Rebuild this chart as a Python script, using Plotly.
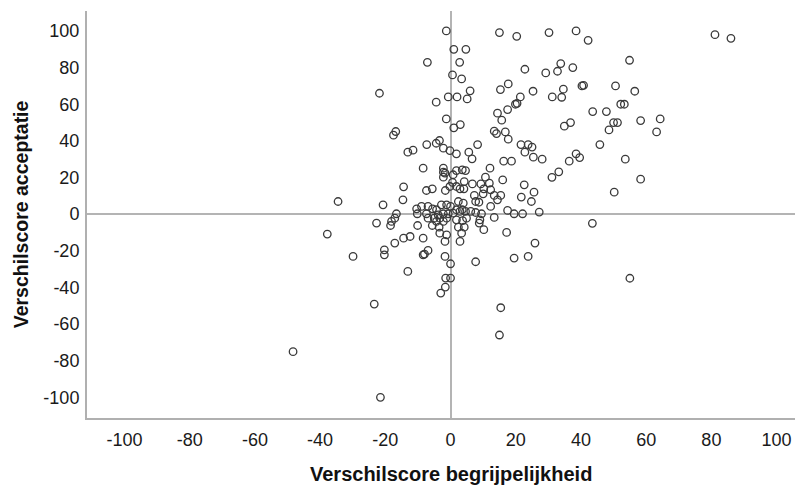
import plotly.graph_objects as go

# Verschilscore begrijpelijkheid (x) and Verschilscore acceptatie (y)
begrijpelijkheid = [
    30.2, 38.5, 42.2, 81.1, 86.0, 54.9, 33.8, 32.8, 29.2, 37.5, 40.3, 40.8, 50.6, 56.5, 25.3,
    34.6, 31.2, 34.1, 52.2, 53.3, 43.6, 47.8, 34.9, 36.8, 50.0, 51.2, 48.6, 58.3, 64.3, 63.2,
    45.8, 25.0,
    -1.3, 1.0, 4.7, -7.1, 2.8, 0.6, 3.4, -21.8, 6.0, -0.7, 2.0, 5.1, -4.4, -1.3, 1.0, 3.0,
    -16.8, -17.5, -7.3, -4.4, -3.4, 8.3, 15.0, 20.3, 22.8, 15.3, 17.7, 21.4, 19.9, 20.4, 17.5,
    14.4, 15.7, 13.4, 14.1, 16.8, 17.7, 21.6, 23.8,
    -13.1, -11.5, -2.2, -0.2, 1.8, 5.6, 6.6, 22.8, 25.4, 16.3, 18.7, -8.4, -2.2, 12.1, -2.2,
    -1.7, 0.8, 1.8, 3.6, 4.6, -2.2, 10.7, 4.2, 6.7, 9.3, 11.9, 16.0, 0.6, -14.4, -7.4, -5.6,
    -1.6, 2.9, 4.1, -0.2, 1.8, 10.2, 12.3, 22.6, 25.6, 7.3, 10.0, 13.4, 15.4, 14.4, 7.7, 8.7,
    21.7, 24.8, -14.6, -34.5, -20.7, -1.2, 2.4, 3.9, 12.3, -10.4, -8.9, -6.9, -5.5, -4.3, -2.8,
    0.0, 1.8, 3.6, 4.6, 6.2, 7.7, 9.5, 17.5, 19.5, 22.1, 27.2, -16.6, -10.2, -7.4, -3.8, -2.2,
    -0.7, 0.8, 2.9, -17.1, -18.1, -22.7, -6.9, -5.0, -3.3, -1.2, 1.8, 3.7, 4.9, 9.0, 13.4,
    -4.3, -2.2, -18.4, -10.1, -5.6, -3.5, 2.4, 4.2, 8.8, 10.2, 17.2, -37.8, -3.3, -1.2, 3.4,
    -14.4, -12.4, -8.4, -17.1, -1.7, 2.9, 25.9, -20.3, -20.3, -6.9, -8.4, -8.0, -29.9, -1.7,
    19.5, 23.8, 0.0, 7.7,
    28.1, 38.5, 39.6, 36.4, 53.6, 33.2, 31.1, 58.3, 50.2, 43.5, 55.0,
    -13.1, -1.5, 0.0, -1.6, -3.0, -23.4, 15.4, 15.0, -48.3, -21.5,
]
acceptatie = [
    99.1, 100.0, 94.9, 98.0, 96.0, 84.0, 82.2, 78.0, 77.1, 80.0, 70.0, 70.3, 70.0, 67.1, 67.1,
    68.2, 64.0, 63.8, 60.0, 60.0, 56.0, 56.0, 48.0, 50.0, 50.0, 50.0, 46.0, 51.1, 52.0, 44.9,
    38.0, 36.6,
    100.0, 90.0, 90.0, 82.9, 82.9, 76.0, 73.8, 66.0, 67.3, 64.0, 64.0, 62.9, 61.1, 52.0, 47.1, 48.9,
    45.1, 43.1, 38.0, 38.7, 40.2, 38.0, 99.1, 97.1, 79.1, 68.0, 71.1, 64.0, 60.0, 60.5, 57.1,
    55.1, 51.3, 45.3, 44.0, 44.9, 40.9, 38.0, 38.0,
    33.8, 34.9, 36.0, 34.7, 32.9, 33.8, 30.2, 33.8, 31.1, 28.9, 28.9, 25.1, 25.1, 25.1, 22.9,
    22.4, 21.5, 23.8, 24.2, 23.8, 20.2, 20.2, 17.8, 16.5, 16.5, 16.9, 18.7, 17.3, 14.9, 12.9, 13.8,
    12.9, 13.8, 13.8, 15.1, 15.1, 13.8, 13.3, 16.0, 12.0, 10.2, 11.1, 10.2, 10.2, 7.8, 6.9, 6.5,
    9.3, 6.9, 7.8, 6.9, 5.1, 5.1, 6.9, 6.0, 4.2, 2.9, 4.2, 4.2, 2.9, 2.4, 5.1,
    4.2, 2.4, 2.4, 1.5, 1.5, 0.9, 0.2, 2.0, 0.2, 0.2, 1.1, 0.2, 0.2, 0.2, -0.4, 0.2,
    0.2, 0.5, 1.5, -2.2, -4.0, -4.9, -2.2, -2.2, -2.2, -2.2, -3.1, -3.5, -2.2, -3.1, -1.8,
    -4.0, -4.0, -6.2, -6.2, -6.2, -7.1, -7.1, -7.1, -4.9, -8.5, -10.0, -10.9, -10.4, -11.3, -10.4,
    -13.1, -12.2, -13.1, -15.8, -14.9, -14.9, -15.8, -19.5, -22.2, -19.8, -22.2, -21.8, -23.1, -23.1,
    -24.0, -23.1, -27.1, -26.0,
    30.0, 32.9, 30.9, 28.9, 30.0, 23.1, 20.1, 19.1, 12.0, -5.0, -35.0,
    -31.3, -34.9, -34.9, -39.8, -43.1, -49.1, -51.1, -66.0, -75.1, -100.0,
]

tick_values = [-100, -80, -60, -40, -20, 0, 20, 40, 60, 80, 100]
x_title = "Verschilscore begrijpelijkheid"
y_title = "Verschilscore acceptatie"

FONT = "Liberation Sans, Arial, sans-serif"

fig = go.Figure()
fig.add_trace(go.Scatter(
    x=begrijpelijkheid, y=acceptatie, mode="markers",
    marker=dict(symbol="circle-open", size=7.5, color="#3a3a3a", line=dict(width=1.3, color="#3a3a3a")),
    showlegend=False, hoverinfo="x+y",
))

axis_common = dict(
    tickvals=tick_values, ticktext=[str(v) for v in tick_values],
    showgrid=False, zeroline=True, zerolinecolor="#b4b4b4", zerolinewidth=2,
    showline=True, linecolor="#b0b0b0", linewidth=2, ticks="",
    tickfont=dict(family=FONT, size=18, color="#1a1a1a"),
)

fig.update_layout(
    width=795, height=477,
    margin=dict(l=79, r=0, t=3, b=67),
    plot_bgcolor="white", paper_bgcolor="white",
    xaxis=dict(range=[-111.5, 108.1], ticklabelstandoff=4, **axis_common),
    yaxis=dict(range=[-111.3, 110.9], ticklabelstandoff=2, **axis_common),
    annotations=[
        dict(text="<b>" + x_title + "</b>", xref="x", x=0, yref="paper", y=-0.138,
             xanchor="center", yanchor="middle", showarrow=False,
             font=dict(family=FONT, size=20, color="#111111")),
        dict(text="<b>" + y_title + "</b>", xref="paper", x=-0.092, yref="y", y=0,
             xanchor="center", yanchor="middle", textangle=-90, showarrow=False,
             borderpad=0,
             font=dict(family=FONT, size=19.5, color="#111111")),
    ],
)

fig.write_html("out.html")
